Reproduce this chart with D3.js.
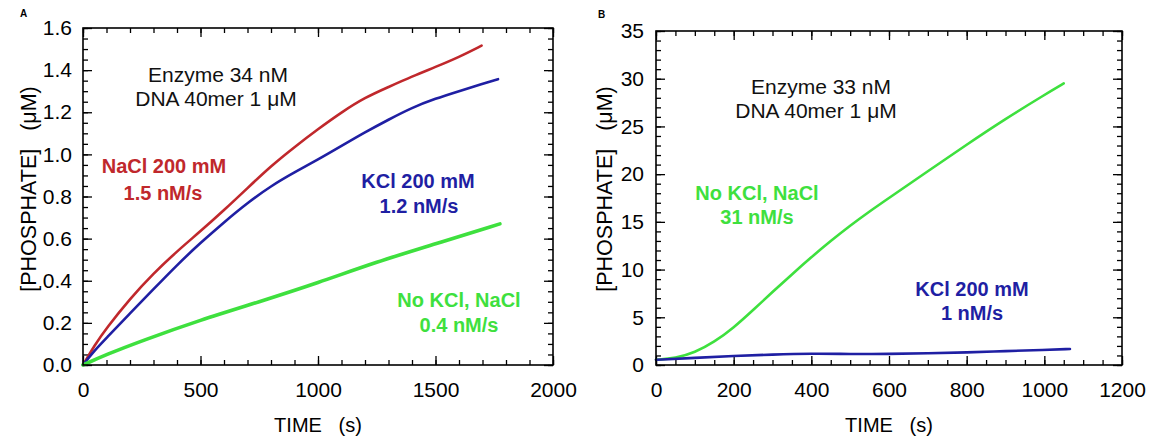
<!DOCTYPE html>
<html>
<head>
<meta charset="utf-8">
<script src="https://cdn.jsdelivr.net/npm/d3@7"></script>
<style>
  html, body { margin: 0; padding: 0; background: #fff; }
  svg text { font-family: "Liberation Sans", Arial, Helvetica, sans-serif; }
</style>
</head>
<body>
<svg id="chart" width="1154" height="439"></svg>
<script>
// ---------- Panel A data ----------
const aXTicks = [0, 500, 1000, 1500, 2000];
const aYTicks = [0.0, 0.2, 0.4, 0.6, 0.8, 1.0, 1.2, 1.4, 1.6];
const aNaClTime = [0, 50, 100, 200, 300, 400, 500, 600, 700, 800, 900, 1000, 1100, 1200, 1300, 1400, 1500, 1600, 1696];
const aNaClPi   = [0, 0.095, 0.175, 0.315, 0.435, 0.54, 0.635, 0.735, 0.84, 0.945, 1.035, 1.12, 1.2, 1.27, 1.32, 1.37, 1.415, 1.462, 1.516];
const aKClTime  = [0, 50, 100, 200, 300, 400, 500, 600, 700, 800, 900, 1000, 1100, 1200, 1300, 1400, 1500, 1600, 1700, 1766];
const aKClPi    = [0, 0.07, 0.128, 0.245, 0.36, 0.475, 0.58, 0.678, 0.77, 0.85, 0.915, 0.975, 1.04, 1.105, 1.165, 1.222, 1.265, 1.30, 1.335, 1.357];
const aNoneTime = [0, 100, 250, 500, 750, 1000, 1250, 1500, 1774];
const aNonePi   = [0, 0.05, 0.115, 0.214, 0.30, 0.39, 0.49, 0.575, 0.67];

// ---------- Panel B data ----------
const bXTicks = [0, 200, 400, 600, 800, 1000, 1200];
const bYTicks = [0, 5, 10, 15, 20, 25, 30, 35];
const bNoneTime = [0, 50, 100, 150, 200, 250, 300, 350, 400, 450, 500, 550, 600, 700, 800, 900, 1000, 1050];
const bNonePi   = [0.55, 0.7, 1.3, 2.4, 3.9, 5.75, 7.65, 9.5, 11.3, 13.0, 14.6, 16.1, 17.5, 20.3, 23.1, 25.8, 28.3, 29.5];
const bKClTime  = [0, 100, 200, 300, 400, 500, 600, 700, 800, 900, 1000, 1066];
const bKClPi    = [0.55, 0.75, 0.95, 1.1, 1.2, 1.15, 1.15, 1.22, 1.32, 1.45, 1.58, 1.68];

const RED = "#c0282c", BLUE = "#1f1fa3", GREEN = "#3ee03e";

const svg = d3.select("#chart");
svg.append("rect").attr("width", 1154).attr("height", 439).attr("fill", "#fff");

function zip(xs, ys) { return xs.map((x, i) => [x, ys[i]]); }

function panel(cfg) {
  const g = svg.append("g");
  const x = d3.scaleLinear().domain(cfg.xDomain).range([cfg.left, cfg.right]);
  const y = d3.scaleLinear().domain(cfg.yDomain).range([cfg.bottom, cfg.top]);
  const W = cfg.right - cfg.left, H = cfg.bottom - cfg.top;
  const MAJ = 9, MIN = 5;

  function style(sel) {
    sel.select(".domain").remove();
    sel.selectAll(".tick line").attr("stroke", "#000").attr("stroke-width", 1.3);
    sel.selectAll("text").attr("font-family", null).attr("fill", "#000");
  }
  const minorX = d3.range(cfg.xDomain[0], cfg.xDomain[1] + 1e-9, cfg.xMinor);
  const minorY = d3.range(cfg.yDomain[0], cfg.yDomain[1] + 1e-9, cfg.yMinor).map(v => +v.toFixed(6));

  // bottom
  g.append("g").attr("transform", `translate(0,${cfg.bottom})`)
    .call(d3.axisBottom(x).tickValues(minorX).tickSize(-MIN).tickFormat(""))
    .call(style);
  g.append("g").attr("transform", `translate(0,${cfg.bottom})`)
    .call(d3.axisBottom(x).tickValues(cfg.xTicks).tickSize(-MAJ).tickPadding(17).tickFormat(d3.format("d")))
    .call(style)
    .selectAll("text").attr("font-size", 21);
  // top
  g.append("g").attr("transform", `translate(0,${cfg.top})`)
    .call(d3.axisTop(x).tickValues(minorX).tickSize(-MIN).tickFormat("")).call(style);
  g.append("g").attr("transform", `translate(0,${cfg.top})`)
    .call(d3.axisTop(x).tickValues(cfg.xTicks).tickSize(-MAJ).tickFormat("")).call(style);
  // left
  g.append("g").attr("transform", `translate(${cfg.left},0)`)
    .call(d3.axisLeft(y).tickValues(minorY).tickSize(-MIN).tickFormat("")).call(style);
  g.append("g").attr("transform", `translate(${cfg.left},0)`)
    .call(d3.axisLeft(y).tickValues(cfg.yTicks).tickSize(-MAJ).tickPadding(cfg.yPad).tickFormat(d3.format(cfg.yFmt)))
    .call(style)
    .selectAll("text").attr("font-size", 21);
  // right
  g.append("g").attr("transform", `translate(${cfg.right},0)`)
    .call(d3.axisRight(y).tickValues(minorY).tickSize(-MIN).tickFormat("")).call(style);
  g.append("g").attr("transform", `translate(${cfg.right},0)`)
    .call(d3.axisRight(y).tickValues(cfg.yTicks).tickSize(-MAJ).tickFormat("")).call(style);

  // series
  const line = d3.line().x(d => x(d[0])).y(d => y(d[1])).curve(d3.curveBasis);
  cfg.series.forEach(s => {
    g.append("path").datum(zip(s.t, s.v))
      .attr("d", line).attr("fill", "none").attr("stroke", s.color)
      .attr("stroke-width", s.width).attr("stroke-linejoin", "round").attr("stroke-linecap", "round");
  });

  // frame
  g.append("rect").attr("x", cfg.left).attr("y", cfg.top).attr("width", W).attr("height", H)
    .attr("fill", "none").attr("stroke", "#000").attr("stroke-width", 1.6);

  // axis titles
  g.append("text").attr("x", (cfg.left + cfg.right) / 2).attr("y", 432)
    .attr("text-anchor", "middle").attr("font-size", 20).style("white-space", "pre")
    .text("TIME   (s)");
  g.append("text").attr("transform", `translate(${cfg.yTitleX},${cfg.yTitleY}) rotate(-90)`)
    .attr("text-anchor", "middle").attr("font-size", 21.5).style("white-space", "pre")
    .text("[PHOSPHATE]   (\u03BCM)");

  // panel letter
  g.append("text").attr("x", cfg.letterX).attr("y", cfg.letterY)
    .attr("font-size", 10).attr("font-weight", "bold").text(cfg.letter);

  // annotations
  cfg.notes.forEach(n => {
    g.append("text").attr("x", n.x).attr("y", n.y).attr("text-anchor", "middle")
      .attr("font-size", n.size).attr("font-weight", n.bold ? "bold" : null)
      .attr("fill", n.color).text(n.text);
  });
}

panel({
  left: 83, right: 553, top: 28, bottom: 365,
  xDomain: [0, 2000], yDomain: [0, 1.6],
  xTicks: aXTicks, yTicks: aYTicks, xMinor: 100, yMinor: 0.05,
  yFmt: ".1f", yPad: 11,
  yTitleX: 36, yTitleY: 189,
  letter: "A", letterX: 20, letterY: 17,
  series: [
    { t: aNaClTime, v: aNaClPi, color: RED, width: 2.6 },
    { t: aKClTime, v: aKClPi, color: BLUE, width: 2.6 },
    { t: aNoneTime, v: aNonePi, color: GREEN, width: 3.6 }
  ],
  notes: [
    { text: "Enzyme 34 nM", x: 218, y: 82, size: 21, color: "#111" },
    { text: "DNA 40mer 1 \u03BCM", x: 216, y: 106, size: 21, color: "#111" },
    { text: "NaCl 200 mM", x: 164, y: 173, size: 20, bold: true, color: RED },
    { text: "1.5 nM/s", x: 163, y: 200, size: 20, bold: true, color: RED },
    { text: "KCl 200 mM", x: 418, y: 188, size: 20, bold: true, color: BLUE },
    { text: "1.2 nM/s", x: 419, y: 213, size: 20, bold: true, color: BLUE },
    { text: "No KCl, NaCl", x: 459, y: 307, size: 20, bold: true, color: GREEN },
    { text: "0.4 nM/s", x: 459, y: 332, size: 20, bold: true, color: GREEN }
  ]
});

panel({
  left: 656, right: 1122, top: 31, bottom: 365,
  xDomain: [0, 1200], yDomain: [0, 35],
  xTicks: bXTicks, yTicks: bYTicks, xMinor: 50, yMinor: 1,
  yFmt: "d", yPad: 12,
  yTitleX: 612, yTitleY: 189,
  letter: "B", letterX: 598, letterY: 18,
  series: [
    { t: bNoneTime, v: bNonePi, color: GREEN, width: 2.6 },
    { t: bKClTime, v: bKClPi, color: BLUE, width: 2.6 }
  ],
  notes: [
    { text: "Enzyme 33 nM", x: 821, y: 94, size: 21, color: "#111" },
    { text: "DNA 40mer 1 \u03BCM", x: 816, y: 118, size: 21, color: "#111" },
    { text: "No KCl, NaCl", x: 757, y: 200, size: 20, bold: true, color: GREEN },
    { text: "31 nM/s", x: 757, y: 224, size: 20, bold: true, color: GREEN },
    { text: "KCl 200 mM", x: 972, y: 296, size: 20, bold: true, color: BLUE },
    { text: "1 nM/s", x: 972, y: 320, size: 20, bold: true, color: BLUE }
  ]
});
</script>
</body>
</html>
